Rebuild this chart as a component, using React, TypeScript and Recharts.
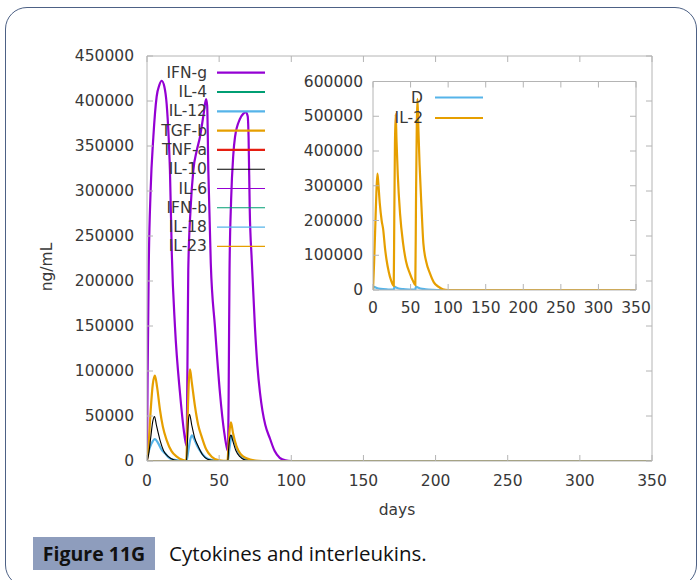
import React from 'react';
import { LineChart, Line, XAxis, YAxis, Legend } from 'recharts';

// ---------- tick labels ----------
const mainXTicks = [0, 50, 100, 150, 200, 250, 300, 350];
const mainYTicks = [0, 50000, 100000, 150000, 200000, 250000, 300000, 350000, 400000, 450000];
const insetXTicks = [0, 50, 100, 150, 200, 250, 300, 350];
const insetYTicks = [0, 100000, 200000, 300000, 400000, 500000, 600000];

// ---------- main panel series ----------
const ifngDays = [0, 0.4, 1.2, 2.5, 4.4, 6.7, 8.6, 10.2, 12.0, 13.6, 15.0, 15.9, 17.2, 19.4, 22.9, 26.3, 27.4,
  28.0, 28.6, 30.2, 32.1, 34.5, 36.7, 39.2, 40.9, 41.7, 42.5, 44.2, 47.1, 50.6, 53.5, 55.6, 56.2,
  56.7, 57.2, 58.3, 59.8, 61.0, 64.4, 66.8, 68.6, 69.8, 70.4, 71.2, 72.6, 74.8, 76.5, 78.3, 80.0, 82.0, 85.2, 88.5, 92.0, 96.0, 100, 350];
const ifngValues = [0, 90000, 215000, 300000, 360000, 405000, 418000, 422500, 416000, 397000, 360000, 323000, 230000, 149000, 75000, 25000, 17000,
  100000, 212000, 280000, 323000, 345000, 360000, 385000, 402000, 395000, 323000, 220000, 149000, 75000, 32000, 13000, 11000,
  100000, 212000, 290000, 340000, 360000, 380000, 386000, 387500, 383000, 360000, 280000, 223000, 149000, 106000, 76000, 56000, 40000, 25000, 11000, 3500, 700, 0, 0];

const tgfbDays = [0, 1, 2.5, 4, 5.5, 7, 9, 11, 13.6, 17, 20.6, 25, 27.2, 28, 29, 29.8, 31, 33.3, 35.5, 37.9, 41, 44.8, 50, 55.8,
  56.4, 57.2, 58.2, 59.6, 62.1, 65, 69, 75, 80, 350];
const tgfbValues = [0, 15000, 55000, 85000, 94800, 82000, 56700, 38000, 23300, 11000, 4800, 1000, 300, 40000, 88000, 101900, 88000, 60300, 40000, 27000, 13000, 4800, 800, 100,
  15000, 33000, 43000, 31000, 15900, 7500, 3000, 500, 0, 0];

const il10Days = [0, 1, 2.5, 4, 5.2, 6.5, 9, 11.5, 14.8, 19, 24, 27.3, 28, 28.7, 29.5, 31, 33, 35.6, 38.5, 42, 48, 56,
  56.6, 57.3, 58.2, 59.5, 61.5, 64.4, 68, 75, 350];
const il10Values = [0, 6000, 25000, 44000, 49500, 40000, 23300, 11500, 4800, 1000, 100, 0, 20000, 45000, 52000, 40000, 26000, 15900, 7000, 2000, 200, 0,
  14000, 25000, 28800, 22000, 12000, 4800, 1000, 0, 0];

const il12Days = [0, 1, 3, 5.5, 7.5, 10, 12.5, 15, 18, 23, 27.4, 28.5, 30, 31.2, 32.5, 35, 38, 41, 45, 52, 56,
  57, 58.7, 60.5, 63, 66, 70, 76, 350];
const il12Values = [5000, 10000, 19000, 24400, 20500, 13000, 8500, 4000, 1500, 300, 0, 10000, 24000, 28500, 25000, 16000, 8500, 3500, 1000, 0, 0,
  12000, 28000, 22000, 11000, 4000, 800, 0, 0];

const flatDays = [0, 350];
const flatValues = [0, 0];

// ---------- inset panel series ----------
const dDays = [0, 0.8, 2, 5, 10, 20, 27.6, 28.6, 30, 34, 40, 50, 56.2, 57.2, 59, 63, 70, 80, 90, 350];
const dValues = [0, 10000, 8500, 5500, 3000, 1500, 1000, 9500, 8000, 4500, 2500, 1200, 800, 9500, 8000, 4500, 2000, 500, 0, 0];

const il2Days = [0, 1.5, 3, 4.5, 5.9, 7, 9, 11.5, 13.5, 16, 18, 21, 24, 27.6,
  28.3, 29.2, 30.2, 31.3, 33, 36, 40, 44, 49, 53, 56.3,
  57.2, 58.3, 59.2, 60.3, 62, 64.5, 67, 71, 75.8, 81, 87, 93, 100, 350];
const il2Values = [0, 80000, 180000, 280000, 335000, 310000, 250000, 200000, 175000, 120000, 87000, 52000, 28000, 12000,
  200000, 420000, 506000, 430000, 330000, 220000, 135000, 82000, 48000, 27000, 14000,
  250000, 480000, 550000, 470000, 360000, 240000, 135000, 80000, 48000, 22000, 9500, 2000, 0, 0];

const zip = (days: number[], values: number[]) => days.map((d, i) => ({ x: d, y: values[i] }));

const mainSeries = [
  { name: 'IFN-g', color: '#9400d3', width: 2.2, data: zip(ifngDays, ifngValues) },
  { name: 'IL-4', color: '#009e73', width: 2.2, data: zip(flatDays, flatValues) },
  { name: 'IL-12', color: '#56b4e9', width: 2.2, data: zip(il12Days, il12Values) },
  { name: 'TGF-b', color: '#e69f00', width: 2.2, data: zip(tgfbDays, tgfbValues) },
  { name: 'TNF-a', color: '#e51e10', width: 2.2, data: zip(flatDays, flatValues) },
  { name: 'IL-10', color: '#000000', width: 1.1, data: zip(il10Days, il10Values) },
  { name: 'IL-6', color: '#9400d3', width: 1.1, data: zip(flatDays, flatValues) },
  { name: 'IFN-b', color: '#009e73', width: 1.1, data: zip(flatDays, flatValues) },
  { name: 'IL-18', color: '#56b4e9', width: 1.1, data: zip(flatDays, flatValues) },
  { name: 'IL-23', color: '#e69f00', width: 1.1, data: zip(flatDays, flatValues) },
];

const insetSeries = [
  { name: 'D', color: '#56b4e9', width: 2.2, data: zip(dDays, dValues) },
  { name: 'IL-2', color: '#e69f00', width: 2.2, data: zip(il2Days, il2Values) },
];

const FONT = "'DejaVu Sans', sans-serif";
const TEXT = '#383838';
const FRAME = '#b4b4b4';
const FS = 15.5;

type Side = 'left' | 'bottom' | 'top' | 'right';
const makeTick = (side: Side, len: number, gap: number) => (props: any) => {
  const { x, y, payload } = props;
  const v = payload.value;
  let line: any = null;
  if (side === 'left') line = <line x1={x} y1={y} x2={x + len} y2={y} stroke={FRAME} />;
  if (side === 'right') line = <line x1={x} y1={y} x2={x - len} y2={y} stroke={FRAME} />;
  if (side === 'bottom') line = <line x1={x} y1={y} x2={x} y2={y - len} stroke={FRAME} />;
  if (side === 'top') line = <line x1={x} y1={y} x2={x} y2={y + len} stroke={FRAME} />;
  let label: any = null;
  if (side === 'left')
    label = (
      <text x={x - gap} y={y} textAnchor="end" dominantBaseline="central" fontSize={FS} fontFamily={FONT} fill={TEXT}>
        {v}
      </text>
    );
  if (side === 'bottom')
    label = (
      <text x={x} y={y + gap} textAnchor="middle" dominantBaseline="central" fontSize={FS} fontFamily={FONT} fill={TEXT}>
        {v}
      </text>
    );
  return (
    <g>
      {line}
      {label}
    </g>
  );
};

const legendBlock = (
  series: { name: string; color: string; width: number }[],
  labelRight: number,
  lineX1: number,
  lineX2: number,
  y0: number,
  dy: number
) => () => (
  <svg width={699} height={580} style={{ position: 'absolute', left: 0, top: 0, overflow: 'visible' }}>
    {series.map((s, i) => {
      const y = y0 + i * dy;
      return (
        <g key={s.name}>
          <text x={labelRight} y={y} textAnchor="end" dominantBaseline="central" fontSize={FS} fontFamily={FONT} fill={TEXT}>
            {s.name}
          </text>
          <line x1={lineX1} x2={lineX2} y1={y} y2={y} stroke={s.color} strokeWidth={s.width} />
        </g>
      );
    })}
  </svg>
);

const axisProps = { tickSize: 0, tickMargin: 0, interval: 0 as const, allowDataOverflow: true, type: 'number' as const };

export default function App() {
  return (
    <div style={{ position: 'absolute', left: 0, top: 0, width: 699, height: 580, background: '#fff', overflow: 'hidden' }}>
      {/* card frame */}
      <div
        style={{
          position: 'absolute',
          left: 5,
          top: 7,
          width: 692,
          height: 580,
          border: '1.5px solid #4d6185',
          borderRadius: 22,
          boxSizing: 'border-box',
        }}
      />
      {/* main chart */}
      <div style={{ position: 'absolute', left: 0, top: 0 }}>
        <LineChart width={699} height={580} margin={{ top: 46, right: 37, bottom: 89, left: 67 }}>
          <XAxis xAxisId="b" orientation="bottom" dataKey="x" domain={[0, 350]} ticks={mainXTicks} height={30}
            axisLine={{ stroke: FRAME }} tickLine={false} tick={makeTick('bottom', 6, 20)} {...axisProps}
            label={{ content: () => <text x={397} y={510} textAnchor="middle" dominantBaseline="central" fontSize={FS} fontFamily={FONT} fill={TEXT}>days</text> }} />
          <XAxis xAxisId="t" orientation="top" dataKey="x" domain={[0, 350]} ticks={mainXTicks} height={10}
            axisLine={{ stroke: FRAME }} tickLine={false} tick={makeTick('top', 6, 0)} {...axisProps} />
          <YAxis yAxisId="l" orientation="left" domain={[0, 450000]} ticks={mainYTicks} width={80}
            axisLine={{ stroke: FRAME }} tickLine={false} tick={makeTick('left', 6, 13)} {...axisProps}
            label={{ content: () => <text x={47} y={267} transform="rotate(-90 47 267)" textAnchor="middle" dominantBaseline="central" fontSize={FS} fontFamily={FONT} fill={TEXT}>ng/mL</text> }} />
          <YAxis yAxisId="r" orientation="right" domain={[0, 450000]} ticks={mainYTicks} width={10}
            axisLine={{ stroke: FRAME }} tickLine={false} tick={makeTick('right', 6, 0)} {...axisProps} />
          {mainSeries.map((s) => (
            <Line key={s.name} xAxisId="b" yAxisId="l" data={s.data} dataKey="y" name={s.name} type="monotone"
              stroke={s.color} strokeWidth={s.width} dot={false} activeDot={false} isAnimationActive={false} />
          ))}
          <Legend layout="vertical" align="center" verticalAlign="middle"
            wrapperStyle={{ left: 0, top: 0, width: 699, height: 580, pointerEvents: 'none' }}
            content={legendBlock(mainSeries, 207, 217, 265, 72.7, 19.3)} />
        </LineChart>
      </div>
      {/* inset chart */}
      <div style={{ position: 'absolute', left: 0, top: 0 }}>
        <LineChart width={699} height={580} margin={{ top: 71.5, right: 53, bottom: 260, left: 293 }}>
          <XAxis xAxisId="b" orientation="bottom" dataKey="x" domain={[0, 350]} ticks={insetXTicks} height={30}
            axisLine={{ stroke: FRAME }} tickLine={false} tick={makeTick('bottom', 6, 18)} {...axisProps} />
          <XAxis xAxisId="t" orientation="top" dataKey="x" domain={[0, 350]} ticks={insetXTicks} height={10}
            axisLine={{ stroke: FRAME }} tickLine={false} tick={makeTick('top', 6, 0)} {...axisProps} />
          <YAxis yAxisId="l" orientation="left" domain={[0, 600000]} ticks={insetYTicks} width={80}
            axisLine={{ stroke: FRAME }} tickLine={false} tick={makeTick('left', 6, 10)} {...axisProps} />
          <YAxis yAxisId="r" orientation="right" domain={[0, 600000]} ticks={insetYTicks} width={10}
            axisLine={{ stroke: FRAME }} tickLine={false} tick={makeTick('right', 6, 0)} {...axisProps} />
          {insetSeries.map((s) => (
            <Line key={s.name} xAxisId="b" yAxisId="l" data={s.data} dataKey="y" name={s.name} type="monotone"
              stroke={s.color} strokeWidth={s.width} dot={false} activeDot={false} isAnimationActive={false} />
          ))}
          <Legend layout="vertical" align="center" verticalAlign="middle"
            wrapperStyle={{ left: 0, top: 0, width: 699, height: 580, pointerEvents: 'none' }}
            content={legendBlock(insetSeries, 423, 435, 483, 97.5, 20.5)} />
        </LineChart>
      </div>
      {/* caption */}
      <div
        style={{
          position: 'absolute', left: 33, top: 537, width: 122, height: 33, background: '#8e9dbd',
          fontFamily: "'Open Sans', sans-serif", fontWeight: 700, fontSize: 19.5, lineHeight: '33px', textAlign: 'center', color: '#111',
        }}
      >
        Figure 11G
      </div>
      <div
        style={{
          position: 'absolute', left: 169, top: 537, height: 33, lineHeight: '33px',
          fontFamily: "'Open Sans', sans-serif", fontSize: 20.5, color: '#111', whiteSpace: 'nowrap',
        }}
      >
        Cytokines and interleukins.
      </div>
    </div>
  );
}
